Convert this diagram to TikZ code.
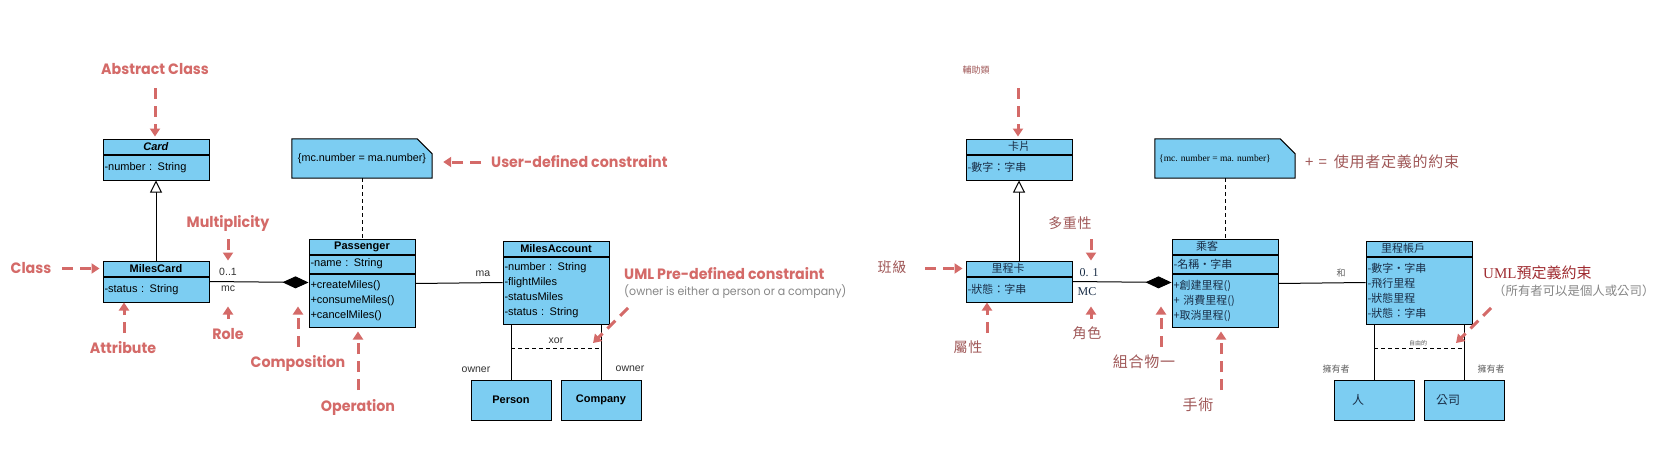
\documentclass[tikz,border=0pt]{standalone}
\usepackage{fontspec}
\setmainfont{Liberation Sans}
\newfontfamily\lblfont{Poppins}[FakeStretch=0.95]
\newfontfamily\cjkfont{Noto Sans CJK TC}
\newfontfamily\cjkwide{Noto Sans CJK TC}[LetterSpace=5]
\newfontfamily\serifen{Liberation Serif}
\usetikzlibrary{positioning,arrows.meta,backgrounds}

\definecolor{umlblue}{RGB}{124,205,242}
\definecolor{callred}{RGB}{212,106,104}
\definecolor{cjkred}{RGB}{160,88,88}
\definecolor{darkred}{RGB}{160,45,50}
\definecolor{subgray}{RGB}{135,135,135}
\definecolor{tagink}{RGB}{50,50,50}
\definecolor{cjktag}{RGB}{95,95,95}
\definecolor{cjkink}{RGB}{25,45,70}

\tikzset{
  classbox/.style={draw, fill=umlblue, line width=1pt, minimum width=106pt},
  hdr/.style={classbox, minimum height=15pt, inner sep=0pt, font=\fontsize{11}{12}\selectfont\bfseries},
  cmp/.style={classbox, text width=103pt, align=left, inner xsep=1.5pt, inner ysep=2pt, font=\fontsize{11}{15}\selectfont},
  leaf/.style={classbox, minimum width=80pt, minimum height=40pt, font=\fontsize{11}{12}\selectfont\bfseries},
  notebox/.style={minimum width=140pt, minimum height=39pt, inner sep=0pt, font=\fontsize{10.8}{12}\selectfont},
  assoctag/.style={inner sep=1pt, text=tagink, font=\fontsize{10.5}{12}\selectfont},
  lbl/.style={inner sep=0pt, text=callred, font=\lblfont\bfseries\fontsize{15}{18}\selectfont},
  sublbl/.style={inner sep=0pt, text=subgray, font=\lblfont\fontsize{11.6}{14}\selectfont},
  rlbl/.style={inner sep=0pt, text=cjkred, font=\cjkwide\fontsize{14}{16}\selectfont},
  rhdr/.style={hdr, text=cjkink, font=\cjkfont\fontsize{11}{12}\selectfont},
  rcmp/.style={cmp, text=cjkink, font=\cjkfont\fontsize{11}{15}\selectfont},
  rleaf/.style={leaf, text=cjkink, font=\cjkfont\fontsize{12}{14}\selectfont},
  rtag/.style={inner sep=1pt, text=cjktag, font=\cjkfont\fontsize{9}{11}\selectfont},
  callout/.style={draw=callred, line width=3pt, dash pattern=on 11pt off 7pt, -{Triangle[width=10pt, length=8pt]}},
  link/.style={line width=1pt},
  generalize/.style={link, -{Triangle[open, width=12pt, length=12pt, fill=white]}},
  compose/.style={link, -{Diamond[width=12pt, length=26pt]}},
  constraint/.style={link, dash pattern=on 4pt off 3pt},
}

\begin{document}
\begin{tikzpicture}[x=1pt, y=-1pt]
  \useasboundingbox (0,0) rectangle (1665,460);
  \begin{scope}[on background layer]
    \fill[white] (0,0) rectangle (1665,460);
  \end{scope}

  \def\rshift{863}

  % English diagram
  \node[hdr] (lcard) at (156,146.5) {\textit{Card}};
  \node[cmp, minimum height=25pt, below=0pt of lcard] (lcardattr) {-number : String};
  \node[hdr] (lmc) at (156,268.5) {MilesCard};
  \node[cmp, minimum height=25pt, below=0pt of lmc] (lmcattr) {-status : String};
  \node[hdr] (lpass) at (362,246.5) {Passenger};
  \node[cmp, minimum height=18pt, below=0pt of lpass] (lpassattr) {-name : String};
  \node[cmp, minimum height=53pt, below=0pt of lpassattr] (lpassops) {+createMiles()\\+consumeMiles()\\+cancelMiles()};
  \node[hdr] (lacct) at (556,248.5) {MilesAccount};
  \node[cmp, minimum height=67pt, below=0pt of lacct] (lacctattr) {-number : String\\-flightMiles\\-statusMiles\\-status : String};
  \node[leaf] (lperson) at (511,400) {Person};
  \node[leaf] (lcompany) at (601,400) {Company};
  \node[notebox] (lnote) at (362,158.5) {\{mc.number = ma.number\}};

  \node[assoctag] (lmult) at (228,272) {0..1};
  \node[assoctag] (lrole) at (228,289) {mc};
  \node[assoctag] (lma) at (483,274) {ma};
  \node[assoctag] (lxor) at (556,341) {xor};
  \node[assoctag] (lownerp) at (476,370) {owner};
  \node[assoctag] (lownerc) at (630,369) {owner};

  \node[lbl] (labslbl) at (155,69) {Abstract Class};
  \node[lbl] (lclasslbl) at (31,268) {Class};
  \node[lbl] (lattrlbl) at (123,348) {Attribute};
  \node[lbl] (lmultlbl) at (228,223) {Multiplicity};
  \node[lbl] (lrolelbl) at (228,334) {Role};
  \node[lbl] (lcomplbl) at (298,363) {Composition};
  \node[lbl] (loplbl) at (358,407) {Operation};
  \node[lbl, anchor=west] (ludlbl) at (491,162) {User-defined constraint};
  \node[lbl, anchor=west] (lumllbl) at (624,274) {UML Pre-defined constraint};
  \node[sublbl, anchor=west] (lumlsub) at (624,292) {(owner is either a person or a company)};

  \coordinate (udtail) at (481,162);
  \draw[callout, shorten >=11pt] (udtail) -- (udtail -| lnote.east);

  % Chinese diagram
  \begin{scope}[xshift=\rshift pt]
    \node[rhdr] (rcard) at (156,146.5) {卡片};
    \node[rcmp, minimum height=25pt, below=0pt of rcard] (rcardattr) {-數字：字串};
    \node[rhdr] (rmc) at (156,268.5) {里程卡\hspace*{22pt}};
    \node[rcmp, minimum height=25pt, below=0pt of rmc] (rmcattr) {-狀態：字串};
    \node[rhdr] (rpass) at (362,246.5) {乘客\hspace*{36pt}};
    \node[rcmp, minimum height=18pt, below=0pt of rpass] (rpassattr) {-名稱・字串};
    \node[rcmp, minimum height=53pt, below=0pt of rpassattr] (rpassops) {+創建里程()\\+ 消費里程()\\+取消里程()};
    \node[rhdr] (racct) at (556,248.5) {里程帳戶\hspace*{32pt}};
    \node[rcmp, minimum height=67pt, below=0pt of racct] (racctattr) {-數字・字串\\-飛行里程\\-狀態里程\\-狀態：字串};
    \node[rleaf] (rperson) at (511,400) {人\hspace*{32pt}};
    \node[rleaf] (rcompany) at (601,400) {公司\hspace*{32pt}};
    \node[notebox] (rnote) at (362,158.5) {\serifen\fontsize{9.5}{11}\selectfont\{mc. number = ma. number\}\hspace*{20pt}};

    \node[rtag, font=\serifen\fontsize{12}{14}\selectfont, text=cjkink] (rmult) at (226,273) {0. 1};
    \node[rtag, font=\serifen\fontsize{12}{14}\selectfont, text=cjkink] (rrole) at (224,292) {MC};
    \node[rtag] (rma) at (478,273) {和};
    \node[rtag, font=\cjkfont\fontsize{6}{7}\selectfont] (rxor) at (555,343) {自由的};
    \node[rtag] (rownerp) at (473,369) {擁有者};
    \node[rtag] (rownerc) at (628,369) {擁有者};

    \node[rlbl, font=\cjkfont\fontsize{9}{11}\selectfont] (rabslbl) at (113,70) {輔助類};
    \node[rlbl] (rclasslbl) at (29,267) {班級};
    \node[rlbl] (rattrlbl) at (105,347) {屬性};
    \node[rlbl] (rmultlbl) at (207,223) {多重性};
    \node[rlbl] (rrolelbl) at (224,333) {角色};
    \node[rlbl, font=\cjkwide\fontsize{15}{17}\selectfont] (rcomplbl) at (281,362) {組合物一};
    \node[rlbl, font=\cjkwide\fontsize{15}{17}\selectfont] (roplbl) at (335,405) {手術};
    \node[rlbl, anchor=west, font=\cjkwide\fontsize{15}{17}\selectfont] (rudlbl) at (442,162) {+\hspace{5pt}=\hspace{7pt}使用者定義的約束};
    \node[rlbl, anchor=west, text=darkred, font=\cjkfont\fontsize{15}{17}\selectfont] (rumllbl) at (620,273) {{\serifen UML}預定義約束};
    \node[rlbl, anchor=west, text=subgray, font=\cjkfont\fontsize{12.4}{14}\selectfont] (rumlsub) at (630,291) {（所有者可以是個人或公司）};
  \end{scope}

  % Connectors and callouts, same in both diagrams
  \foreach \p/\dx in {l/0, r/\rshift} {
    \begin{scope}[on background layer]
      \draw[link, fill=umlblue] (\p note.north west) -- ([xshift=-15pt]\p note.north east)
        -- ([yshift=-15pt]\p note.north east) -- (\p note.south east) -- (\p note.south west) -- cycle;
    \end{scope}
    \draw[generalize] (\p mc) -- (\p cardattr);
    \draw[compose] ([yshift=-5pt]\p mcattr.north east) -- ([yshift=-9pt]\p passops.north west);
    \draw[link] ([yshift=-10pt]\p passops.north east) -- ([yshift=-26pt]\p acctattr.north west);
    \draw[constraint] (\p note) -- (\p pass);
    \draw[link] (\p person) -- (\p person |- \p acctattr.south);
    \draw[link] (\p company) -- (\p company |- \p acctattr.south);
    \draw[constraint] ([yshift=31pt]\p person.north) -- ([yshift=31pt]\p company.north);

    \begin{scope}[xshift=\dx pt]
      \coordinate (\p abstail) at (155,88);
      \coordinate (\p classtail) at (62,268.5);
      \coordinate (\p attrtail) at (124,333);
      \coordinate (\p multtail) at (228,239);
      \coordinate (\p roletail) at (228,319);
      \coordinate (\p comptail) at (298,347);
      \coordinate (\p optail) at (358,390);
      \coordinate (\p umltail) at (628,308);
      \coordinate (\p umltip) at (593,343);
    \end{scope}
    \draw[callout, shorten >=2pt] (\p abstail) -- (\p abstail |- \p card.north);
    \draw[callout, shorten >=3pt] (\p classtail) -- (\p classtail -| \p mc.west);
    \draw[callout] (\p attrtail) -- (\p attrtail |- \p mcattr.south);
    \draw[callout] (\p multtail) -- (\p multtail |- \p mc.north);
    \draw[callout, shorten >=4pt] (\p roletail) -- (\p roletail |- \p mcattr.south);
    \draw[callout, shorten >=4pt] (\p comptail) -- (\p comptail |- \p mcattr.south);
    \draw[callout, shorten >=4pt] (\p optail) -- (\p optail |- \p passops.south);
    \draw[callout] (\p umltail) -- (\p umltip);
  }
\end{tikzpicture}
\end{document}
